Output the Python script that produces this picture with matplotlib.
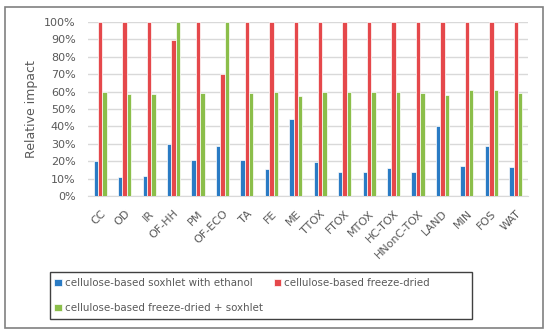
import matplotlib
matplotlib.use("Agg")
import matplotlib.pyplot as plt
import numpy as np
from matplotlib.patches import Rectangle
from matplotlib.ticker import PercentFormatter

categories = ["CC", "OD", "IR", "OF-HH", "PM", "OF-ECO", "TA", "FE", "ME", "TTOX",
              "FTOX", "MTOX", "HC-TOX", "HNonC-TOX", "LAND", "MIN", "FOS", "WAT"]
soxhlet_ethanol = [19.9, 10.7, 11.3, 30.1, 20.5, 28.9, 20.7, 15.3, 44.3, 19.3,
                   13.8, 13.8, 16.1, 13.6, 40.4, 17.0, 28.7, 16.7]
freeze_dried = [100, 100, 100, 89.7, 100, 70.1, 100, 100, 100, 100,
                100, 100, 100, 100, 100, 100, 100, 100]
freeze_dried_soxhlet = [59.6, 58.8, 58.8, 100, 59.2, 100, 59.2, 59.8, 57.7, 59.8,
                        59.6, 59.6, 59.8, 59.2, 57.9, 60.7, 60.7, 59.0]
series_names = ["cellulose-based soxhlet with ethanol", "cellulose-based freeze-dried",
                "cellulose-based freeze-dried + soxhlet"]
colors = ["#2A7BC4", "#E5484B", "#8BBE4A"]

plt.rcParams['font.family'] = ['DejaVu Sans']

fig = plt.figure(figsize=(5.5, 3.35), dpi=100)
ax = fig.add_axes([0.16, 0.415, 0.8, 0.519])

x = np.arange(len(categories))
w = 0.18
for i, (vals, c, n) in enumerate(zip([soxhlet_ethanol, freeze_dried, freeze_dried_soxhlet], colors, series_names)):
    ax.bar(x + (i - 1) * w, vals, width=w, color=c, edgecolor="white", linewidth=0.5, label=n, zorder=3)

ax.set_xlim(-0.5, len(categories) - 0.5)
ax.set_ylim(0, 100)
ax.set_yticks(np.arange(0, 101, 10))
ax.yaxis.set_major_formatter(PercentFormatter(decimals=0))
ax.grid(axis="y", color="#D9D9D9", linewidth=1, zorder=0)
for s in ["top", "right", "left"]:
    ax.spines[s].set_visible(False)
ax.spines["bottom"].set_color("#D9D9D9")
ax.tick_params(axis="both", length=0, labelsize=8, colors="#595959")
ax.tick_params(axis="y", pad=9)
ax.set_xticks(x)
ax.set_xticklabels(categories, rotation=45, ha="right", rotation_mode="anchor")
ax.tick_params(axis="x", pad=9)
ax.set_ylabel("Relative impact", fontsize=9, color="#595959", labelpad=4)

handles, labels = ax.get_legend_handles_labels()
order = [0, 2, 1]
leg = fig.legend([handles[i] for i in order], [labels[i] for i in order], ncol=2,
                 loc="upper left", bbox_to_anchor=(54/550, 1 - 278/335),
                 fontsize=7.4, frameon=False,
                 handlelength=0.75, handleheight=0.75, handletextpad=0.3,
                 columnspacing=1.05, labelspacing=1.45, borderpad=0,
                 borderaxespad=0)
for t in leg.get_texts():
    t.set_color("#595959")

fig.patches.append(Rectangle((50/550, 1 - 319/335), 422/550, 47/335, transform=fig.transFigure,
                             fill=False, edgecolor="#404040", linewidth=1.0))
fig.patches.append(Rectangle((5/550, 7/335), 538/550, 321/335, transform=fig.transFigure,
                             fill=False, edgecolor="#808080", linewidth=1.2))

fig.savefig("out.png", dpi=100)
